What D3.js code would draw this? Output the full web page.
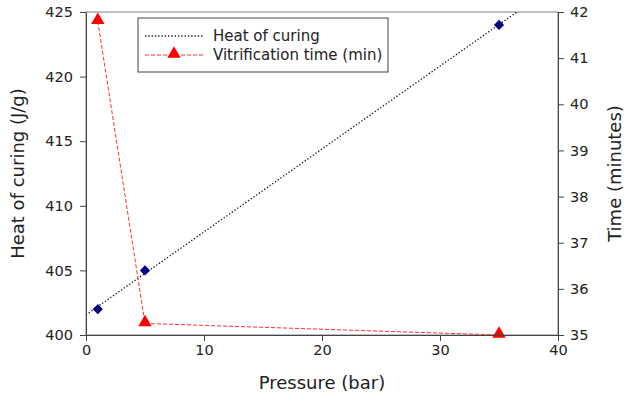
<!DOCTYPE html>
<html>
<head>
<meta charset="utf-8">
<script src="https://cdn.jsdelivr.net/npm/d3@7"></script>
<style>
  body { margin: 0; background: #fff; }
  text { font-family: "DejaVu Sans", sans-serif; fill: #222; }
</style>
</head>
<body>
<svg id="chart" width="625" height="394"></svg>
<script>
"use strict";

const pressure = [1, 5, 35];
const heatOfCuring = [402, 405, 424];
const vitrificationTime = [41.8, 35.25, 35.0];
const xTicks = [0, 10, 20, 30, 40];
const leftTicks = [400, 405, 410, 415, 420, 425];
const rightTicks = [35, 36, 37, 38, 39, 40, 41, 42];

const margin = { top: 12, right: 67, bottom: 59, left: 86 };
const width = 625, height = 394;
const innerW = width - margin.left - margin.right;
const innerH = height - margin.top - margin.bottom;

const svg = d3.select("#chart");
const g = svg.append("g").attr("transform", `translate(${margin.left},${margin.top})`);

const x = d3.scaleLinear().domain([0, 40]).range([0, innerW]);
const yL = d3.scaleLinear().domain([400, 425]).range([innerH, 0]);
const yR = d3.scaleLinear().domain([35, 42]).range([innerH, 0]);

svg.append("defs").append("clipPath").attr("id", "clip")
  .append("rect").attr("width", innerW).attr("height", innerH);

// least squares fit for heat of curing
const mx = d3.mean(pressure), my = d3.mean(heatOfCuring);
const slope = d3.sum(pressure, (p, i) => (p - mx) * (heatOfCuring[i] - my)) /
  d3.sum(pressure, p => (p - mx) ** 2);
const intercept = my - slope * mx;
const fit = [0, 40].map(p => [p, intercept + slope * p]);

g.append("rect").attr("width", innerW).attr("height", innerH)
  .attr("fill", "none").attr("stroke", "#808080").attr("stroke-width", 1);

const plot = g.append("g").attr("clip-path", "url(#clip)");

plot.append("path")
  .datum(fit)
  .attr("fill", "none").attr("stroke", "#111").attr("stroke-width", 1.3)
  .attr("stroke-dasharray", "1.3,2")
  .attr("d", d3.line().x(d => x(d[0])).y(d => yL(d[1])));

plot.append("path")
  .datum(pressure.map((p, i) => [p, vitrificationTime[i]]))
  .attr("fill", "none").attr("stroke", "#ff3030").attr("stroke-width", 1)
  .attr("stroke-dasharray", "4,2")
  .attr("d", d3.line().x(d => x(d[0])).y(d => yR(d[1])));

g.append("g").selectAll("path")
  .data(pressure.map((p, i) => [p, heatOfCuring[i]]))
  .join("path")
  .attr("transform", d => `translate(${x(d[0])},${yL(d[1])}) rotate(45)`)
  .attr("d", "M-3.6,-3.6H3.6V3.6H-3.6Z")
  .attr("fill", "#000080");

const tri = d3.symbol().type(d3.symbolTriangle).size(78);
g.append("g").selectAll("path")
  .data(pressure.map((p, i) => [p, vitrificationTime[i]]))
  .join("path")
  .attr("transform", d => `translate(${x(d[0])},${yR(d[1]) - 1})`)
  .attr("d", tri)
  .attr("fill", "#ff0000");

// axes
const styleAxis = sel => {
  sel.selectAll(".domain").attr("stroke", "#444");
  sel.selectAll(".tick line").attr("stroke", "#444");
  sel.selectAll(".tick text").style("font-size", "14.5px").attr("fill", "#222");
};

g.append("g").attr("transform", `translate(0,${innerH})`)
  .call(d3.axisBottom(x).tickValues(xTicks).tickSize(6).tickSizeOuter(0).tickPadding(4))
  .call(styleAxis);

g.append("g")
  .call(d3.axisLeft(yL).tickValues(leftTicks).tickSize(6).tickSizeOuter(0).tickPadding(7))
  .call(styleAxis);

g.append("g").attr("transform", `translate(${innerW},0)`)
  .call(d3.axisRight(yR).tickValues(rightTicks).tickFormat(d3.format("d"))
    .tickSize(6).tickSizeOuter(0).tickPadding(6))
  .call(styleAxis);

svg.selectAll(".tick text").attr("font-family", null);

// axis labels
svg.append("text").attr("x", margin.left + innerW / 2).attr("y", 389)
  .attr("text-anchor", "middle").style("font-size", "18px").text("Pressure (bar)");
svg.append("text").attr("transform", `translate(24,${margin.top + innerH / 2}) rotate(-90)`)
  .attr("text-anchor", "middle").style("font-size", "18px").text("Heat of curing (J/g)");
svg.append("text").attr("transform", `translate(621,${margin.top + innerH / 2}) rotate(-90)`)
  .attr("text-anchor", "middle").style("font-size", "18px").text("Time (minutes)");

// legend
const legend = svg.append("g").attr("transform", "translate(138,18)");
legend.append("rect").attr("width", 250).attr("height", 54)
  .attr("fill", "#fff").attr("stroke", "#444").attr("stroke-width", 1);
legend.append("line").attr("x1", 7).attr("x2", 65).attr("y1", 18).attr("y2", 18)
  .attr("stroke", "#111").attr("stroke-width", 1.3).attr("stroke-dasharray", "1.3,2");
legend.append("text").attr("x", 75).attr("y", 23).style("font-size", "15px").text("Heat of curing");
legend.append("line").attr("x1", 7).attr("x2", 65).attr("y1", 37).attr("y2", 37)
  .attr("stroke", "#ff3030").attr("stroke-width", 1).attr("stroke-dasharray", "4,2");
legend.append("path").attr("transform", "translate(36,36)").attr("d", tri).attr("fill", "#ff0000");
legend.append("text").attr("x", 75).attr("y", 42).style("font-size", "15px").text("Vitrification time (min)");
</script>
</body>
</html>
